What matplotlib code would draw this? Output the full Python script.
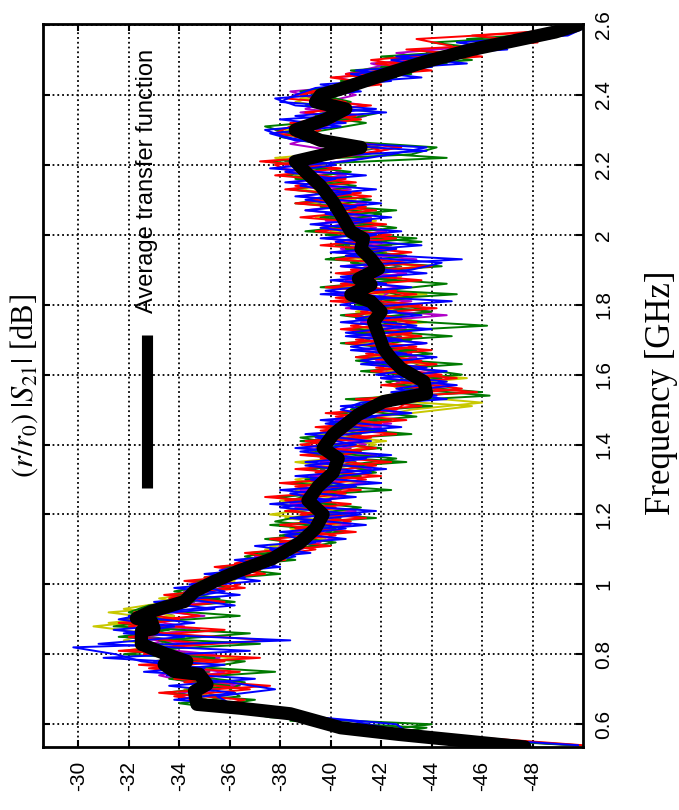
import numpy as np
import matplotlib
matplotlib.use('Agg')
import matplotlib.pyplot as plt

plt.rcParams['font.family'] = ['Liberation Sans', 'DejaVu Sans']
plt.rcParams['mathtext.fontset'] = 'stix'

# sweep frequencies of the two measurement runs [GHz]
freq_a = np.round(np.arange(0.54, 2.601, 0.02), 2)
freq_b = np.round(np.arange(0.55, 2.591, 0.02), 2)

# |S21| per measurement position [dB], run A
s21_gray_a = [
    -49.8, -45.2, -41.8, -39.6, -38.2, -36.8, -35.0, -35.6, -34.4, -35.4,
    -34.0, -33.4, -33.0, -34.6, -32.6, -33.8, -32.0, -33.4, -31.8, -33.4,
    -34.0, -34.8, -34.2, -35.6, -36.4, -36.0, -37.0, -38.0, -38.8, -38.0,
    -39.6, -39.0, -39.8, -40.2, -38.8, -39.6, -39.0, -40.2, -39.4, -40.8,
    -40.0, -40.8, -39.2, -40.6, -41.0, -40.2, -41.2, -41.6, -41.2, -42.8,
    -43.4, -44.0, -43.0, -42.6, -43.2, -42.0, -41.8, -42.8, -41.4, -42.2,
    -41.6, -42.4, -41.6, -42.6, -40.6, -41.4, -41.8, -41.2, -42.4, -41.4,
    -41.8, -41.0, -41.6, -40.8, -40.6, -41.2, -40.0, -40.8, -40.2, -39.6,
    -40.0, -39.4, -38.8, -39.0, -39.8, -41.0, -40.0, -38.6, -37.8, -39.6,
    -40.4, -40.0, -39.2, -39.8, -40.4, -41.6, -42.4, -42.8, -44.4, -44.8,
    -46.6, -47.0, -49.0, -50.0]
s21_yellow_a = [
    -49.9, -45.8, -42.2, -40.0, -39.2, -37.0, -35.4, -34.8, -34.2, -36.0,
    -34.6, -33.0, -34.2, -32.8, -33.6, -31.8, -32.8, -30.6, -33.4, -31.2,
    -34.6, -33.2, -35.4, -34.8, -36.2, -35.8, -37.6, -38.2, -37.4, -39.0,
    -39.6, -38.4, -40.4, -37.6, -39.6, -38.0, -40.6, -39.8, -38.6, -40.8,
    -41.6, -39.8, -40.6, -41.8, -39.8, -40.8, -41.4, -41.8, -43.2, -46.0,
    -42.8, -43.6, -44.6, -42.8, -42.2, -43.4, -42.0, -41.6, -42.6, -41.4,
    -42.2, -43.2, -41.0, -42.0, -43.0, -41.0, -41.8, -42.8, -41.2, -41.6,
    -40.8, -42.6, -41.4, -41.2, -40.0, -41.8, -40.6, -39.8, -41.0, -39.6,
    -39.2, -40.4, -38.8, -39.8, -37.8, -41.2, -40.8, -39.0, -38.2, -40.0,
    -39.6, -40.6, -38.6, -39.6, -40.8, -42.2, -41.2, -42.6, -43.0, -44.6,
    -45.2, -47.2, -48.8, -50.0]
s21_magenta_a = [
    -49.7, -45.0, -42.0, -40.4, -38.8, -36.6, -35.2, -34.0, -35.6, -34.4,
    -33.2, -34.6, -33.6, -35.4, -32.4, -33.4, -32.2, -34.2, -32.6, -33.6,
    -33.2, -35.2, -34.2, -35.8, -35.6, -36.0, -37.8, -37.0, -38.8, -39.6,
    -38.4, -40.0, -39.0, -40.8, -38.6, -39.8, -40.4, -38.8, -40.6, -40.8,
    -39.4, -41.2, -39.6, -41.4, -40.2, -39.8, -42.4, -40.6, -41.8, -42.6,
    -43.8, -43.2, -42.6, -44.2, -42.4, -41.8, -43.2, -41.6, -42.6, -41.2,
    -42.8, -41.6, -44.0, -41.2, -42.0, -42.4, -40.6, -42.6, -41.0, -42.0,
    -41.8, -40.4, -42.2, -40.6, -41.8, -39.8, -41.2, -40.4, -39.6, -40.8,
    -39.8, -38.8, -40.4, -39.4, -41.4, -40.2, -38.4, -39.4, -38.8, -40.2,
    -41.4, -39.0, -39.8, -41.0, -40.0, -42.0, -40.6, -41.8, -44.2, -42.6,
    -45.8, -46.4, -48.6, -49.8]
s21_green_a = [
    -49.6, -44.6, -41.6, -44.0, -37.6, -36.2, -34.0, -36.4, -36.0, -36.6,
    -34.2, -34.8, -36.6, -31.8, -34.2, -33.2, -36.8, -31.4, -33.4, -32.0,
    -32.8, -35.6, -33.8, -35.4, -35.0, -37.0, -37.8, -36.6, -38.4, -40.2,
    -38.0, -40.2, -37.8, -39.2, -41.2, -38.4, -39.4, -41.0, -39.0, -41.8,
    -40.6, -42.6, -39.4, -40.4, -38.8, -42.2, -40.0, -43.4, -40.8, -41.4,
    -46.3, -43.0, -42.2, -45.2, -43.2, -41.0, -44.0, -41.6, -43.2, -41.0,
    -46.2, -41.4, -44.0, -41.0, -43.2, -42.0, -44.6, -40.6, -42.8, -40.8,
    -43.0, -40.6, -43.6, -39.8, -42.6, -40.4, -42.0, -39.6, -41.6, -39.4,
    -41.0, -38.6, -40.8, -38.4, -44.6, -40.2, -39.6, -38.0, -39.8, -41.4,
    -39.4, -40.2, -40.8, -39.6, -41.0, -40.4, -43.2, -42.0, -45.6, -43.8,
    -47.2, -45.4, -49.4, -50.0]
s21_red_a = [
    -50.0, -46.2, -42.5, -40.8, -38.0, -37.6, -35.6, -33.8, -36.8, -34.2,
    -35.6, -32.8, -35.8, -32.6, -33.2, -37.6, -33.4, -32.0, -34.0, -32.2,
    -34.6, -33.6, -35.2, -36.4, -35.0, -37.2, -36.2, -37.4, -39.4, -38.0,
    -40.2, -38.6, -40.8, -38.8, -40.2, -38.2, -40.6, -38.6, -41.4, -39.4,
    -41.8, -39.6, -41.2, -38.8, -41.6, -39.6, -42.0, -40.2, -42.6, -43.0,
    -42.4, -45.2, -42.8, -44.4, -41.8, -43.6, -41.4, -43.4, -41.0, -43.2,
    -40.8, -42.8, -41.2, -43.6, -40.2, -42.6, -40.4, -42.0, -40.8, -43.0,
    -40.6, -42.6, -40.2, -42.4, -39.6, -41.6, -39.8, -41.4, -39.2, -41.2,
    -38.6, -40.6, -38.4, -37.8, -40.2, -42.0, -41.2, -38.6, -39.6, -38.4,
    -41.0, -39.6, -40.6, -38.8, -40.2, -41.8, -40.6, -43.4, -41.6, -44.6,
    -44.8, -43.4, -48.2, -49.8]
s21_blue_a = [
    -49.8, -45.5, -43.0, -42.6, -39.5, -38.0, -36.0, -35.5, -37.8, -36.0,
    -33.5, -35.0, -32.5, -31.5, -29.8, -38.4, -31.8, -33.8, -31.6, -33.0,
    -36.2, -34.0, -35.8, -34.4, -36.6, -35.6, -37.0, -38.6, -37.6, -39.4,
    -38.2, -40.6, -38.8, -41.2, -38.0, -40.0, -38.4, -41.0, -39.2, -41.6,
    -39.0, -41.4, -38.8, -41.0, -39.4, -42.2, -39.8, -41.8, -40.4, -41.2,
    -44.2, -42.6, -44.6, -41.8, -43.8, -41.2, -43.0, -40.8, -42.8, -40.6,
    -43.4, -41.0, -42.6, -40.4, -42.4, -39.8, -42.2, -40.4, -43.2, -44.4,
    -40.6, -42.6, -40.2, -41.8, -39.6, -41.6, -39.8, -41.0, -39.0, -40.8,
    -38.8, -40.2, -38.2, -40.2, -38.4, -43.8, -39.6, -38.2, -37.4, -40.6,
    -38.6, -41.8, -38.0, -38.6, -39.4, -42.4, -40.8, -44.0, -42.4, -46.0,
    -45.2, -48.6, -49.6, -50.0]

# |S21| per measurement position [dB], run B
s21_gray_b = [
    -46.2, -43.0, -40.8, -39.8, -37.4, -36.4, -34.4, -35.2, -35.8, -33.8,
    -35.2, -33.2, -34.8, -32.4, -33.6, -32.8, -33.4, -32.0, -33.8, -32.8,
    -34.6, -34.0, -35.4, -35.2, -36.6, -36.2, -37.8, -37.6, -39.0, -38.6,
    -40.0, -39.0, -40.4, -38.6, -40.2, -38.8, -40.4, -39.2, -40.6, -39.6,
    -41.0, -39.2, -40.8, -39.6, -41.2, -40.0, -41.8, -40.4, -42.4, -42.0,
    -44.0, -43.0, -44.2, -42.4, -43.6, -41.8, -43.2, -41.6, -42.8, -41.6,
    -42.6, -41.0, -42.8, -41.2, -42.2, -40.4, -42.6, -40.8, -42.8, -41.2,
    -41.8, -40.6, -42.0, -40.2, -41.2, -40.0, -41.0, -39.4, -40.6, -39.4,
    -40.2, -38.8, -39.8, -38.2, -40.4, -42.0, -39.6, -38.4, -38.8, -40.8,
    -39.8, -40.6, -39.0, -39.8, -41.2, -41.6, -42.8, -43.4, -44.6, -45.6,
    -46.8, -48.4, -49.8]
s21_yellow_b = [
    -46.0, -42.4, -41.6, -38.8, -38.6, -35.6, -35.8, -34.6, -35.4, -34.0,
    -35.0, -33.6, -36.4, -31.8, -33.8, -32.6, -34.2, -31.2, -33.8, -31.8,
    -33.6, -34.8, -34.0, -36.2, -35.6, -37.0, -36.4, -38.8, -37.6, -39.8,
    -38.8, -40.4, -38.2, -40.6, -37.8, -40.2, -38.6, -41.2, -39.2, -40.6,
    -38.6, -41.8, -39.4, -42.2, -39.4, -41.6, -40.6, -43.2, -45.6, -41.4,
    -43.0, -42.4, -45.4, -42.2, -43.8, -41.6, -43.6, -41.0, -43.4, -41.2,
    -43.8, -41.4, -42.6, -40.8, -43.8, -40.4, -42.8, -41.0, -43.6, -40.6,
    -42.2, -40.8, -42.4, -40.0, -42.0, -39.4, -41.2, -39.2, -40.8, -38.8,
    -40.2, -38.6, -39.4, -37.6, -40.2, -41.6, -39.4, -38.0, -39.2, -41.2,
    -39.6, -40.8, -38.8, -40.4, -41.6, -41.2, -43.6, -42.4, -45.6, -44.8,
    -46.6, -48.6, -50.0]
s21_magenta_b = [
    -46.8, -43.2, -41.0, -39.6, -37.4, -35.8, -35.0, -34.0, -36.4, -34.2,
    -35.8, -33.0, -35.6, -32.0, -34.6, -31.8, -34.8, -32.2, -35.0, -32.4,
    -35.4, -33.6, -35.8, -34.6, -36.8, -35.8, -37.2, -37.8, -38.0, -40.2,
    -38.4, -40.8, -38.6, -41.0, -38.4, -40.6, -38.8, -41.4, -39.2, -41.6,
    -39.6, -41.8, -38.8, -41.2, -39.8, -42.0, -40.2, -42.8, -41.0, -43.6,
    -42.6, -44.8, -42.0, -44.2, -41.6, -43.4, -41.2, -43.8, -40.8, -43.0,
    -41.2, -44.6, -40.6, -43.2, -40.2, -42.8, -40.6, -43.0, -40.4, -43.4,
    -40.2, -42.4, -39.8, -42.2, -39.4, -41.6, -39.0, -41.4, -38.8, -40.8,
    -38.4, -40.6, -38.0, -38.6, -41.4, -42.6, -40.6, -38.2, -39.8, -40.6,
    -38.8, -41.4, -39.4, -38.4, -41.6, -40.2, -42.8, -41.6, -45.2, -43.6,
    -47.4, -47.8, -49.6]
s21_green_b = [
    -45.8, -42.0, -43.8, -38.4, -38.8, -35.2, -37.0, -33.4, -36.0, -33.6,
    -37.8, -33.2, -35.4, -32.0, -37.2, -31.6, -33.6, -32.4, -36.4, -32.6,
    -36.2, -33.8, -36.0, -34.6, -38.0, -35.6, -38.6, -36.8, -39.6, -37.4,
    -40.6, -37.6, -41.8, -38.2, -40.2, -37.8, -42.4, -38.4, -41.2, -39.0,
    -43.0, -39.0, -42.0, -38.8, -43.2, -39.8, -42.4, -40.2, -44.0, -40.6,
    -46.0, -42.6, -44.4, -41.2, -45.2, -41.0, -43.4, -40.4, -44.8, -40.8,
    -42.6, -40.4, -43.8, -40.6, -45.0, -39.6, -42.6, -40.4, -44.4, -39.8,
    -42.0, -40.2, -43.4, -39.0, -41.6, -39.6, -42.6, -38.6, -40.8, -38.4,
    -40.6, -38.2, -39.8, -37.4, -43.2, -44.2, -40.0, -38.4, -37.4, -40.6,
    -42.0, -39.0, -40.2, -38.8, -40.8, -42.6, -40.8, -44.6, -42.0, -46.4,
    -44.0, -48.8, -49.8]
s21_red_b = [
    -46.4, -43.6, -39.8, -40.2, -37.0, -35.2, -36.6, -33.2, -37.6, -33.8,
    -36.4, -32.4, -37.2, -31.6, -35.2, -32.0, -35.8, -31.6, -34.8, -33.0,
    -35.8, -33.4, -36.6, -34.2, -37.4, -35.4, -38.2, -36.6, -40.0, -37.6,
    -41.0, -38.0, -41.4, -38.2, -40.8, -37.4, -41.2, -38.0, -42.0, -38.6,
    -42.4, -38.8, -41.8, -39.0, -42.6, -39.4, -43.0, -39.8, -43.6, -41.0,
    -45.8, -42.0, -45.0, -41.6, -44.2, -41.0, -44.0, -40.6, -43.6, -40.4,
    -43.4, -40.6, -44.2, -40.0, -43.4, -39.8, -43.6, -40.2, -44.0, -40.2,
    -43.2, -39.6, -42.6, -39.4, -42.2, -38.8, -41.8, -38.6, -41.6, -38.2,
    -41.0, -37.8, -40.4, -37.2, -41.0, -42.8, -40.2, -37.8, -38.4, -41.2,
    -39.0, -41.6, -38.2, -39.2, -42.0, -40.0, -44.0, -41.8, -46.0, -43.0,
    -48.2, -45.6, -50.0]
s21_blue_b = [
    -47.0, -44.0, -42.2, -40.8, -37.2, -37.6, -33.8, -36.2, -33.6, -37.0,
    -32.6, -35.8, -31.0, -36.8, -30.8, -34.2, -31.4, -34.6, -32.0, -35.4,
    -33.0, -36.4, -33.8, -37.2, -35.0, -38.0, -36.2, -39.2, -37.0, -40.6,
    -38.0, -41.4, -38.4, -41.8, -37.6, -41.0, -38.0, -42.0, -38.6, -42.2,
    -39.0, -42.4, -38.6, -41.6, -39.0, -42.8, -39.6, -43.2, -40.4, -44.6,
    -42.4, -45.0, -42.0, -44.6, -41.2, -44.2, -40.8, -43.8, -40.6, -44.0,
    -40.4, -43.6, -40.8, -44.8, -39.6, -43.2, -40.0, -43.8, -40.4, -45.2,
    -40.0, -43.6, -39.6, -42.8, -39.2, -42.4, -39.0, -42.0, -38.6, -41.8,
    -38.2, -41.4, -37.6, -40.6, -42.4, -43.8, -38.6, -37.6, -40.4, -38.0,
    -42.2, -38.6, -37.8, -41.2, -39.6, -43.6, -41.0, -45.4, -42.6, -47.0,
    -45.0, -49.4, -50.0]

# average transfer function
avg_freq = [0.535, 0.571, 0.59, 0.63, 0.646, 0.657, 0.694, 0.714, 0.743, 0.751,
            0.771, 0.78, 0.80, 0.829, 0.866, 0.874, 0.894, 0.903, 0.923, 0.951,
            0.98, 1.009, 1.037, 1.074, 1.12, 1.16, 1.20, 1.24, 1.28, 1.32,
            1.36, 1.39, 1.429, 1.486, 1.523, 1.546, 1.58, 1.617, 1.646, 1.674,
            1.714, 1.751, 1.78, 1.809, 1.829, 1.857, 1.874, 1.903, 1.931, 1.96,
            1.989, 2.009, 2.046, 2.094, 2.14, 2.18, 2.21, 2.23, 2.25, 2.27,
            2.30, 2.33, 2.36, 2.38, 2.40, 2.417, 2.46, 2.494, 2.53, 2.551,
            2.58, 2.60]
avg_s21 = [-47.7, -42.7, -40.4, -38.4, -36.4, -34.7, -34.6, -35.1, -34.8, -33.8,
           -33.4, -34.3, -33.5, -32.5, -32.5, -33.0, -32.9, -32.3, -32.9, -34.2,
           -34.6, -35.4, -36.3, -37.7, -38.8, -39.4, -39.7, -39.1, -39.5, -40.1,
           -40.3, -39.7, -40.1, -41.1, -42.1, -43.8, -43.7, -42.8, -42.4, -42.1,
           -41.9, -41.7, -42.0, -41.6, -40.8, -41.6, -41.1, -41.9, -41.6, -41.2,
           -41.3, -40.8, -40.5, -40.1, -39.6, -39.0, -38.6, -39.8, -41.2, -39.6,
           -38.6, -39.8, -40.6, -39.4, -39.6, -40.4, -42.2, -43.7, -45.6, -47.0,
           -48.9, -49.8]

db_ticks = [-30, -32, -34, -36, -38, -40, -42, -44, -46, -48]
freq_ticks = [0.6, 0.8, 1.0, 1.2, 1.4, 1.6, 1.8, 2.0, 2.2, 2.4, 2.6]
freq_labels = ['0.6', '0.8', '1', '1.2', '1.4', '1.6', '1.8', '2', '2.2', '2.4', '2.6']

traces = [
    (freq_a, s21_gray_a, '#4d4d4d'), (freq_b, s21_gray_b, '#4d4d4d'),
    (freq_a, s21_yellow_a, '#c8c800'), (freq_b, s21_yellow_b, '#c8c800'),
    (freq_a, s21_magenta_a, '#b000c8'), (freq_b, s21_magenta_b, '#b000c8'),
    (freq_a, s21_green_a, '#007a00'), (freq_b, s21_green_b, '#007a00'),
    (freq_a, s21_red_a, '#ff0000'), (freq_b, s21_red_b, '#ff0000'),
    (freq_a, s21_blue_a, '#0000ff'), (freq_b, s21_blue_b, '#0000ff'),
]

fig = plt.figure(figsize=(6.79, 8.10), dpi=100)
ax = fig.add_axes([0.0633, 0.0778, 0.7953, 0.8926])

# chart is drawn turned on its side: dB runs along the bottom, frequency up the right
for f, vals, col in traces:
    ax.plot(vals, f, '-', color=col, linewidth=1.4)
ax.plot(avg_s21, avg_freq, '-', color='black', linewidth=9.5,
        solid_capstyle='round', solid_joinstyle='round')

ax.set_xlim(-28.6, -50.0)
ax.set_ylim(0.535, 2.603)
ax.set_xticks(db_ticks)
ax.set_xticklabels([str(v) for v in db_ticks])
ax.set_yticks(freq_ticks)
ax.set_yticklabels(freq_labels)

ax.grid(True, color='black', linestyle=':', linewidth=1.3)
ax.tick_params(axis='both', direction='in', length=5, width=1.5,
               top=True, bottom=True, left=True, right=True,
               labelleft=False, labelright=True, labelsize=15)
ax.tick_params(axis='x', labelrotation=90, pad=10)
ax.tick_params(axis='y', labelrotation=90, pad=8)
for lab in ax.get_yticklabels():
    lab.set_verticalalignment('center')
for sp in ax.spines.values():
    sp.set_linewidth(2)

# axis titles
ax.yaxis.set_label_position('right')
ax.set_ylabel('Frequency [GHz]', family='Liberation Serif', fontsize=25, rotation=90)
ax.yaxis.set_label_coords(1.115, 0.49)
ax.text(-0.035, 0.5, r'$(r/r_0)\;|S_{21}|$ [dB]', transform=ax.transAxes,
        rotation=90, ha='center', va='center', fontsize=22,
        family='Liberation Serif')

# legend entry
ax.plot([0.193, 0.193], [0.358, 0.570], '-', color='black', linewidth=8,
        transform=ax.transAxes, solid_capstyle='butt')
ax.text(0.193, 0.600, 'Average transfer function', transform=ax.transAxes,
        rotation=90, ha='center', va='bottom', fontsize=17)

fig.savefig('out.png', dpi=100)
